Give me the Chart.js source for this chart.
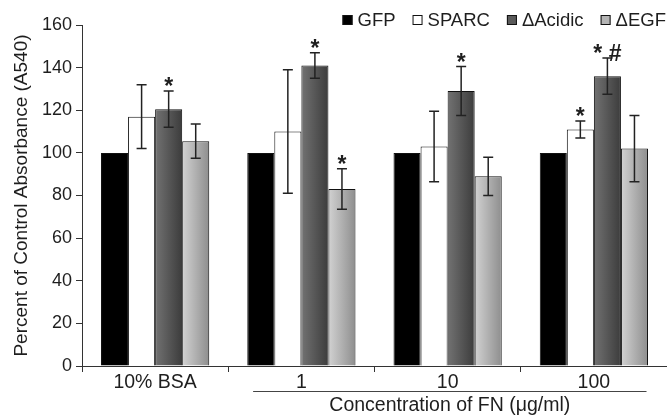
<!DOCTYPE html>
<html lang="en">
<head>
    <meta charset="UTF-8">
    <title>Percent of Control Absorbance</title>
    <script src="https://cdn.jsdelivr.net/npm/chart.js"></script>
    <style>
        html, body { margin: 0; padding: 0; background: #fff; }
        #wrap { width: 667px; height: 419px; }
    </style>
</head>
<body>
    <div id="wrap"><canvas id="absChart" width="667" height="419"></canvas></div>

    <script>
        // Data
        const categories = ['10% BSA', '1', '10', '100'];
        const seriesNames = ['GFP', 'SPARC', '\u0394Acidic', '\u0394EGF'];
        const gfpValues = [100, 100, 100, 100];
        const sparcValues = [117, 110, 103, 111];
        const acidicValues = [120.5, 141, 129, 136];
        const egfValues = [105.5, 83, 89, 102];
        const gfpErrors = [0, 0, 0, 0];
        const sparcErrors = [15, 29, 16.5, 4];
        const acidicErrors = [8.5, 6, 11.5, 8.5];
        const egfErrors = [8, 9.5, 9, 15.5];
        const gfpMarks = ['', '', '', ''];
        const sparcMarks = ['', '', '', '*'];
        const acidicMarks = ['*', '*', '*', '* #'];
        const egfMarks = ['', '*', '', ''];
        const yTicks = [0, 20, 40, 60, 80, 100, 120, 140, 160];
        const xTitle = 'Concentration of FN (\u03bcg/ml)';
        const yTitle = 'Percent of Control Absorbance (A540)';

        const FONT = "'Liberation Sans', Arial, sans-serif";
        const TEXT = '#1e1e1e';
        const CAT_PCT = 0.74;

        // horizontal gradient for each bar, worked out from the x scale
        function barFill(light, dark) {
            return (ctx) => {
                const chart = ctx.chart;
                const xs = chart.scales.x;
                if (!xs || !chart.chartArea || ctx.type !== 'data') return dark;
                const bw = (xs.width / categories.length) * CAT_PCT / 4;
                const left = xs.getPixelForValue(ctx.dataIndex) - 2 * bw + ctx.datasetIndex * bw;
                const g = chart.ctx.createLinearGradient(left, 0, left + bw, 0);
                g.addColorStop(0, light);
                g.addColorStop(1, dark);
                return g;
            };
        }

        const legendColors = ['#000000', '#ffffff', '#5a5a5a', '#b4b4b4'];
        const errors = [gfpErrors, sparcErrors, acidicErrors, egfErrors];
        const marks = [gfpMarks, sparcMarks, acidicMarks, egfMarks];

        const extras = {
            id: 'extras',
            afterDatasetsDraw(chart) {
                const c = chart.ctx;
                const ys = chart.scales.y;
                c.save();
                c.strokeStyle = '#222';
                c.lineWidth = 1.5;
                c.fillStyle = TEXT;
                chart.data.datasets.forEach((ds, di) => {
                    const meta = chart.getDatasetMeta(di);
                    meta.data.forEach((bar, i) => {
                        const v = ds.data[i];
                        const e = errors[di][i];
                        const top = ys.getPixelForValue(v + e);
                        if (e > 0) {
                            const bot = ys.getPixelForValue(v - e);
                            c.beginPath();
                            c.moveTo(bar.x, top); c.lineTo(bar.x, bot);
                            c.moveTo(bar.x - 5, top); c.lineTo(bar.x + 5, top);
                            c.moveTo(bar.x - 5, bot); c.lineTo(bar.x + 5, bot);
                            c.stroke();
                        }
                        const m = marks[di][i];
                        if (m) {
                            c.font = 'bold 23px ' + FONT;
                            c.textAlign = 'center';
                            c.textBaseline = 'alphabetic';
                            c.fillText(m, bar.x, top + 3);
                        }
                    });
                });
                c.restore();
            },
            afterDraw(chart) {
                const c = chart.ctx;
                const xs = chart.scales.x;
                const area = chart.chartArea;
                c.save();
                c.fillStyle = TEXT;

                // y title
                c.font = '19px ' + FONT;
                c.textAlign = 'center';
                c.textBaseline = 'middle';
                c.save();
                c.translate(22, (area.top + area.bottom) / 2);
                c.rotate(-Math.PI / 2);
                c.fillText(yTitle, 0, 0);
                c.restore();

                // underline grouping the FN concentrations, then the x title
                const cw = xs.width / categories.length;
                const x0 = xs.getPixelForValue(1) - 0.33 * cw;
                const x1 = xs.getPixelForValue(3) + 0.36 * cw;
                c.strokeStyle = '#444';
                c.lineWidth = 1;
                c.beginPath();
                c.moveTo(x0, 391.5); c.lineTo(x1, 391.5);
                c.stroke();
                c.font = '19.5px ' + FONT;
                c.fillText(xTitle, (x0 + x1) / 2, 406);

                // legend
                c.font = '18.5px ' + FONT;
                c.textBaseline = 'middle';
                c.textAlign = 'left';
                const box = 10, gapText = 5, gapItem = 17;
                const widths = seriesNames.map(n => c.measureText(n).width);
                let total = widths.reduce((a, b) => a + b, 0) + seriesNames.length * (box + gapText) + (seriesNames.length - 1) * gapItem;
                let x = 666 - total;
                const ly = 20;
                seriesNames.forEach((n, i) => {
                    c.fillStyle = legendColors[i];
                    c.fillRect(x, ly - box / 2, box, box);
                    c.strokeStyle = '#111';
                    c.strokeRect(x + 0.5, ly - box / 2 + 0.5, box - 1, box - 1);
                    c.fillStyle = TEXT;
                    c.fillText(n, x + box + gapText, ly + 1);
                    x += box + gapText + widths[i] + gapItem;
                });
                c.restore();
            }
        };

        const ctx = document.getElementById('absChart').getContext('2d');
        const absChart = new Chart(ctx, {
            type: 'bar',
            data: {
                labels: categories,
                datasets: [
                    { label: seriesNames[0], data: gfpValues, backgroundColor: '#000000' },
                    { label: seriesNames[1], data: sparcValues, backgroundColor: '#ffffff' },
                    { label: seriesNames[2], data: acidicValues, backgroundColor: barFill('#727272', '#3c3c3c') },
                    { label: seriesNames[3], data: egfValues, backgroundColor: barFill('#d2d2d2', '#8e8e8e') }
                ]
            },
            options: {
                responsive: false,
                animation: false,
                layout: { padding: { top: 25, right: 0, left: 0, bottom: 0 } },
                datasets: {
                    bar: {
                        categoryPercentage: CAT_PCT,
                        barPercentage: 1.0,
                        borderColor: '#111',
                        borderWidth: 1
                    }
                },
                plugins: {
                    legend: { display: false },
                    tooltip: { enabled: false }
                },
                scales: {
                    x: {
                        offset: true,
                        grid: { offset: true, drawOnChartArea: false, drawTicks: true, tickLength: 6, color: '#333' },
                        border: { color: '#333', width: 1 },
                        ticks: { color: TEXT, font: { family: FONT, size: 19.5, lineHeight: 1 }, padding: 1, maxRotation: 0 },
                        afterFit(scale) { scale.height = 53; }
                    },
                    y: {
                        min: 0,
                        max: 160,
                        afterBuildTicks(scale) { scale.ticks = yTicks.map(v => ({ value: v })); },
                        grid: { drawOnChartArea: false, drawTicks: true, tickLength: 6, color: '#333' },
                        border: { color: '#333', width: 1 },
                        ticks: { color: TEXT, font: { family: FONT, size: 18 }, padding: 4 },
                        afterFit(scale) { scale.width = 82; }
                    }
                }
            },
            plugins: [extras]
        });
    </script>
</body>
</html>
